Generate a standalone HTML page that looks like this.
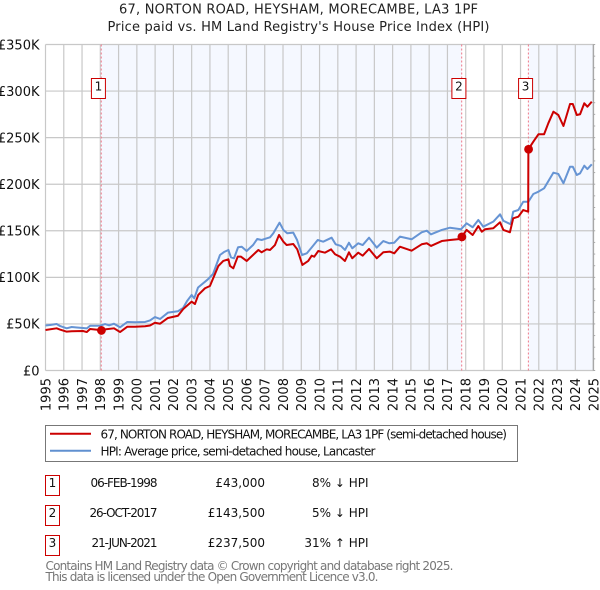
<!DOCTYPE html>
<html lang="en">
<head>
<meta charset="utf-8">
<title>67, NORTON ROAD, HEYSHAM, MORECAMBE, LA3 1PF</title>
<style>
html,body{margin:0;padding:0;background:#fff;width:600px;height:590px;overflow:hidden}
svg{display:block;font-family:"DejaVu Sans","Liberation Sans",sans-serif}
</style>
</head>
<body>
<svg id="chart" xmlns="http://www.w3.org/2000/svg" width="600" height="590" viewBox="0 0 600 590">
  <rect x="0" y="0" width="600" height="590" fill="#ffffff"/>
  <text x="298.5" y="13.5" text-anchor="middle" font-size="13" fill="#222" textLength="359" lengthAdjust="spacing">67, NORTON ROAD, HEYSHAM, MORECAMBE, LA3 1PF</text>
  <text x="298.5" y="31" text-anchor="middle" font-size="13" fill="#222" textLength="382" lengthAdjust="spacing">Price paid vs. HM Land Registry's House Price Index (HPI)</text>
  <g id="plot"></g>

  <g>
    <rect x="45.5" y="425.5" width="472" height="36" fill="#fff" stroke="#777" stroke-width="1"/>
    <line x1="50" y1="433.7" x2="91" y2="433.7" stroke="#cc0000" stroke-width="2"/>
    <text x="100.5" y="438.5" font-size="12" fill="#111" textLength="406.5" lengthAdjust="spacing">67, NORTON ROAD, HEYSHAM, MORECAMBE, LA3 1PF (semi-detached house)</text>
    <line x1="50" y1="450.7" x2="91" y2="450.7" stroke="#6090d0" stroke-width="2"/>
    <text x="100.5" y="455.5" font-size="12" fill="#111" textLength="275" lengthAdjust="spacing">HPI: Average price, semi-detached house, Lancaster</text>
  </g>

  <g font-size="12" fill="#111">
    <rect x="45.5" y="475.5" width="14" height="20" fill="#fff" stroke="#cc0000" stroke-width="1"/>
    <text x="52.5" y="487" text-anchor="middle">1</text>
    <text x="157.5" y="487" text-anchor="end" textLength="67" lengthAdjust="spacing">06-FEB-1998</text>
    <text x="265" y="487" text-anchor="end">£43,000</text>
    <text x="368.5" y="487" text-anchor="end">8% ↓ HPI</text>

    <rect x="45.5" y="505.5" width="14" height="20" fill="#fff" stroke="#cc0000" stroke-width="1"/>
    <text x="52.5" y="517" text-anchor="middle">2</text>
    <text x="157.5" y="517" text-anchor="end" textLength="68" lengthAdjust="spacing">26-OCT-2017</text>
    <text x="265" y="517" text-anchor="end">£143,500</text>
    <text x="368.5" y="517" text-anchor="end">5% ↓ HPI</text>

    <rect x="45.5" y="535.5" width="14" height="20" fill="#fff" stroke="#cc0000" stroke-width="1"/>
    <text x="52.5" y="547" text-anchor="middle">3</text>
    <text x="157.5" y="547" text-anchor="end" textLength="66" lengthAdjust="spacing">21-JUN-2021</text>
    <text x="265" y="547" text-anchor="end">£237,500</text>
    <text x="368.5" y="547" text-anchor="end">31% ↑ HPI</text>
  </g>

  <text x="45.5" y="570" font-size="12" fill="#777" textLength="408" lengthAdjust="spacing">Contains HM Land Registry data © Crown copyright and database right 2025.</text>
  <text x="45.5" y="581" font-size="12" fill="#777" textLength="333" lengthAdjust="spacing">This data is licensed under the Open Government Licence v3.0.</text>
</svg>

<script>
const xTickYears = [1995,1996,1997,1998,1999,2000,2001,2002,2003,2004,2005,2006,2007,2008,2009,2010,2011,2012,2013,2014,2015,2016,2017,2018,2019,2020,2021,2022,2023,2024,2025];
const yTickValues = [0,50,100,150,200,250,300,350];
const yTickLabels = ['£0','£50K','£100K','£150K','£200K','£250K','£300K','£350K'];

const hpiDates = [1995.00,1995.25,1995.61,1995.79,1996.16,1996.43,1996.72,1997.05,1997.26,1997.44,1997.98,1998.26,1998.48,1998.75,1999.08,1999.48,1999.90,2000.45,2000.72,2000.99,2001.27,2001.70,2002.25,2002.53,2002.75,2003.00,2003.14,2003.35,2003.89,2004.17,2004.55,2004.77,2005.01,2005.15,2005.32,2005.54,2005.74,2006.01,2006.36,2006.59,2006.83,2007.11,2007.29,2007.47,2007.81,2008.02,2008.23,2008.56,2008.77,2009.04,2009.30,2009.59,2009.90,2010.20,2010.66,2010.88,2011.17,2011.39,2011.61,2011.79,2012.12,2012.36,2012.71,2013.13,2013.49,2013.82,2014.09,2014.40,2015.04,2015.59,2015.87,2016.10,2016.69,2017.14,2017.74,2018.05,2018.38,2018.69,2018.96,2019.51,2019.88,2020.06,2020.46,2020.60,2020.88,2021.15,2021.43,2021.70,2021.98,2022.29,2022.80,2023.07,2023.35,2023.71,2023.86,2024.08,2024.26,2024.49,2024.66,2024.90];
const hpiValues = [48.3,48.9,49.9,47.8,45.3,46.7,46.2,45.6,45.2,48.0,48.1,49.9,48.5,50.2,46.4,52.1,51.8,52.1,53.7,57.4,55.3,62.1,63.6,67.1,74.6,81.1,77.5,89.1,97.9,103.6,124.0,127.2,129.4,121.5,120.5,132.3,132.9,128.3,134.7,141.2,140.1,141.9,143.0,147.3,158.7,150.9,147.3,148.0,140.1,124.0,125.8,132.6,140.1,138.3,142.6,135.5,133.7,129.4,137.2,131.2,136.6,134.7,142.6,131.9,139.0,136.6,137.2,143.7,140.9,148.4,150.1,146.2,150.9,153.3,151.6,158.0,153.8,161.6,154.4,159.8,167.7,160.8,157.0,170.5,172.3,181.2,181.2,189.5,192.0,195.6,212.4,211.0,201.0,218.8,218.8,209.9,211.7,219.9,216.3,221.4];

const priceDates = [1995.00,1995.61,1995.79,1996.16,1996.43,1997.05,1997.26,1997.44,1997.98,1998.05,1998.26,1998.75,1999.08,1999.48,1999.90,2000.45,2000.72,2000.99,2001.27,2001.70,2002.25,2002.54,2003.00,2003.18,2003.36,2003.73,2004.00,2004.46,2004.73,2005.01,2005.10,2005.28,2005.52,2005.70,2006.01,2006.65,2006.83,2007.11,2007.29,2007.56,2007.78,2008.02,2008.20,2008.56,2008.78,2009.06,2009.38,2009.57,2009.71,2009.93,2010.30,2010.63,2010.85,2011.12,2011.39,2011.61,2011.79,2012.12,2012.36,2012.71,2013.13,2013.49,2013.86,2014.09,2014.40,2015.04,2015.59,2015.87,2016.10,2016.69,2017.14,2017.69,2017.78,2018.05,2018.38,2018.69,2018.88,2019.06,2019.51,2019.88,2020.06,2020.42,2020.60,2020.88,2021.15,2021.42,2021.43,2021.70,2021.98,2022.29,2022.52,2022.80,2023.07,2023.35,2023.71,2023.86,2024.08,2024.26,2024.49,2024.66,2024.90];
const priceValues = [43.5,45.3,44.0,41.7,42.1,42.4,41.3,44.6,43.5,43.0,44.2,45.3,41.3,47.0,47.0,47.5,48.3,51.3,50.2,56.4,58.8,66.0,73.9,71.4,81.1,88.3,90.7,112.2,117.6,119.4,112.2,109.7,122.2,122.2,117.6,129.4,126.9,130.1,129.4,134.7,145.5,138.3,134.7,135.8,130.1,113.3,117.6,123.3,122.2,128.3,126.5,130.1,124.8,122.2,117.6,126.9,120.5,126.5,123.3,130.5,120.5,126.9,127.6,125.8,132.9,128.6,135.5,136.6,133.7,139.0,140.1,141.2,143.5,150.9,145.5,155.1,149.0,151.6,152.7,159.1,150.9,148.4,163.4,165.1,172.3,170.5,237.5,245.7,253.6,253.6,265.4,277.9,274.3,262.5,286.1,286.1,274.3,275.1,286.9,283.2,288.6];

const saleDates = [1998.05,2017.78,2021.43];
const salePrices = [43.0,143.5,237.5];
const saleLabels = ['1','2','3'];

const SVG_NS = 'http://www.w3.org/2000/svg';
const plot = document.getElementById('plot');
const PLOT_LEFT = 45.5, PLOT_RIGHT = 593.6, PLOT_TOP = 44.5, PLOT_BOTTOM = 370.5;

function xOf(year){ return PLOT_LEFT + (year - 1995) * (PLOT_RIGHT - PLOT_LEFT) / 30; }
function yOf(k){ return PLOT_BOTTOM - k * (PLOT_BOTTOM - PLOT_TOP) / 350; }
function make(tag, attrs){
  const el = document.createElementNS(SVG_NS, tag);
  for (const key in attrs) el.setAttribute(key, attrs[key]);
  plot.appendChild(el);
  return el;
}
function pathFrom(dates, values){
  return dates.map((d, i) => (i ? 'L' : 'M') + xOf(d).toFixed(2) + ' ' + yOf(values[i]).toFixed(2)).join(' ');
}

const band1 = make('rect', {x: xOf(saleDates[0]), y: PLOT_TOP, width: xOf(saleDates[1]) - xOf(saleDates[0]), height: PLOT_BOTTOM - PLOT_TOP, fill: '#f5f8ff'});


const band2 = make('rect', {x: xOf(saleDates[2]), y: PLOT_TOP, width: PLOT_RIGHT - xOf(saleDates[2]), height: PLOT_BOTTOM - PLOT_TOP, fill: '#f5f8ff'});



yTickValues.forEach((v, i) => {
  const grid = make('line', {x1: PLOT_LEFT, x2: PLOT_RIGHT, y1: yOf(v), y2: yOf(v), stroke: '#c8c8c8', 'stroke-width': 1.2});
  
  
  const label = make('text', {x: 39.5, y: yOf(v) + 4.8, 'text-anchor': 'end', 'font-size': 13, fill: '#111'});
  
  
  label.textContent = yTickLabels[i];
});

xTickYears.forEach(year => {
  const grid = make('line', {x1: xOf(year), x2: xOf(year), y1: PLOT_TOP, y2: PLOT_BOTTOM, stroke: '#c8c8c8', 'stroke-width': 1.2});
  
  
  const lx = xOf(year) + 4.8;
  const label = make('text', {x: lx, y: 378, 'text-anchor': 'end', 'font-size': 13, fill: '#111', transform: 'rotate(-90 ' + lx + ' 378)'});
  
  
  label.textContent = String(year);
});

const rightAxis = make('line', {x1: PLOT_RIGHT - 0.4, x2: PLOT_RIGHT - 0.4, y1: PLOT_TOP, y2: PLOT_BOTTOM, stroke: '#999', 'stroke-width': 1});


for (let k = 0; k <= 350; k += 12.5) {
  const tick = make('line', {x1: PLOT_RIGHT - 0.4, x2: PLOT_RIGHT + 1.6, y1: yOf(k), y2: yOf(k), stroke: '#aaa', 'stroke-width': 1});
  
  
}

saleDates.forEach(date => {
  const guide = make('line', {x1: xOf(date), x2: xOf(date), y1: PLOT_TOP, y2: PLOT_BOTTOM, stroke: '#f07888', 'stroke-width': 1, 'stroke-dasharray': '2 2'});
  
  
});

const hpiLine = make('path', {d: pathFrom(hpiDates, hpiValues), fill: 'none', stroke: '#6694d4', 'stroke-width': 2, 'stroke-linejoin': 'round'});


const priceLine = make('path', {d: pathFrom(priceDates, priceValues), fill: 'none', stroke: '#cc0000', 'stroke-width': 2, 'stroke-linejoin': 'round'});



saleDates.forEach((date, i) => {
  const dot = make('circle', {cx: xOf(date) + 0.2, cy: yOf(salePrices[i]), r: 4.4, fill: '#cc0000'});
  
  
  const box = make('rect', {x: xOf(date) - 9.8, y: 78.5, width: 14, height: 20, fill: '#fff', stroke: '#cc0000', 'stroke-width': 1});
  
  
  const num = make('text', {x: xOf(date) - 2.8, y: 90.5, 'text-anchor': 'middle', 'font-size': 12, fill: '#111'});
  
  
  num.textContent = saleLabels[i];
});
</script>
</body>
</html>
